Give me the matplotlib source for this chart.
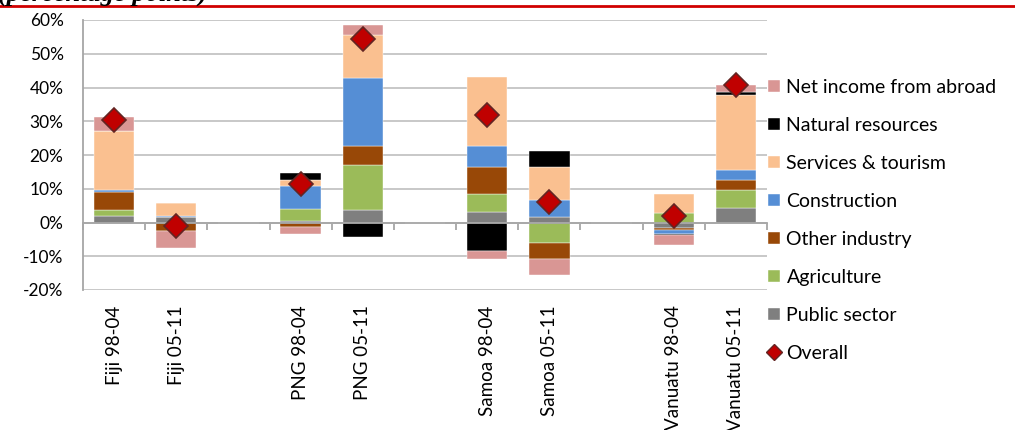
import matplotlib
matplotlib.use("Agg")
import matplotlib.pyplot as plt
from matplotlib.lines import Line2D
import numpy as np

plt.rcParams['font.family'] = ['Lato', 'DejaVu Sans']

categories = ["Fiji 98-04", "Fiji 05-11", "", "PNG 98-04", "PNG 05-11", "",
              "Samoa 98-04", "Samoa 05-11", "", "Vanuatu 98-04", "Vanuatu 05-11"]

public_sector = [1.8, 1.6, np.nan, 0.4, 3.6, np.nan, 3.1, 1.7, np.nan, -1.6, 4.2]
agriculture = [2.0, 0.0, np.nan, 3.6, 13.3, np.nan, 5.2, -6.2, np.nan, 2.7, 5.3]
other_industry = [5.1, -2.5, np.nan, -1.4, 5.8, np.nan, 8.1, -4.5, np.nan, -0.7, 3.0]
construction = [0.6, 0.3, np.nan, 6.9, 20.2, np.nan, 6.2, 5.1, np.nan, -1.0, 3.0]
services_tourism = [17.5, 3.9, np.nan, 1.7, 12.8, np.nan, 20.5, 9.7, np.nan, 5.8, 22.2]
natural_resources = [0.0, 0.0, np.nan, 2.0, -4.3, np.nan, -8.3, 4.8, np.nan, -0.5, 1.1]
net_income = [4.2, -5.0, np.nan, -1.9, 2.8, np.nan, -2.5, -4.9, np.nan, -3.0, 2.0]
overall = [30.4, -0.9, np.nan, 11.4, 54.4, np.nan, 31.9, 6.0, np.nan, 1.9, 40.8]

series = [
    ("Public sector", public_sector, "#7F7F7F"),
    ("Agriculture", agriculture, "#9BBB59"),
    ("Other industry", other_industry, "#984807"),
    ("Construction", construction, "#558ED5"),
    ("Services & tourism", services_tourism, "#FAC090"),
    ("Natural resources", natural_resources, "#000000"),
    ("Net income from abroad", net_income, "#D99694"),
]

fig = plt.figure(figsize=(10.15, 4.30), dpi=100)
ax = fig.add_axes([83/1015, 1 - 290/430, (767 - 83)/1015, 270/430])

x = np.arange(len(categories))
pos_base = np.zeros(len(categories))
neg_base = np.zeros(len(categories))
handles = []
for name, vals, col in series:
    v = np.nan_to_num(np.array(vals, dtype=float))
    bottoms = np.where(v >= 0, pos_base, neg_base)
    b = ax.bar(x, v, bottom=bottoms, width=0.65, color=col, label=name,
               edgecolor='white', linewidth=0.3, zorder=3)
    handles.append(b)
    pos_base = pos_base + np.where(v > 0, v, 0)
    neg_base = neg_base + np.where(v < 0, v, 0)

ax.plot(x, overall, linestyle='none', marker='D', markersize=12,
        markerfacecolor='#C00000', markeredgecolor='#632523',
        markeredgewidth=1.2, label='Overall', zorder=5)

ax.set_xlim(-0.5, len(categories) - 0.5)
ax.set_ylim(-20, 60)
ax.set_yticks(np.arange(-20, 61, 10))
ax.set_yticklabels([f"{t}%" for t in range(-20, 61, 10)], fontsize=12.5)
ax.tick_params(axis='y', length=0, pad=14)
ax.grid(axis='y', color='#C8C8C8', linewidth=1.4, zorder=0)
ax.set_axisbelow(True)

for s in ['top', 'right']:
    ax.spines[s].set_visible(False)
ax.spines['left'].set_color('#A6A6A6')
ax.spines['left'].set_linewidth(1.3)
ax.spines['bottom'].set_position(('data', 0))
ax.spines['bottom'].set_color('#A6A6A6')
ax.spines['bottom'].set_linewidth(1.3)
ax.spines['bottom'].set_zorder(4)
ax.set_xticks(np.arange(len(categories) + 1) - 0.5)
ax.set_xticklabels([])
ax.tick_params(axis='x', length=5, color='#A6A6A6', width=1.3, direction='out')

sec = ax.secondary_xaxis(0.0)
sec.set_xticks(x)
sec.set_xticklabels(categories, rotation=90, fontsize=13.5)
sec.tick_params(length=0, pad=11)
sec.spines['bottom'].set_visible(False)

ov_proxy = Line2D([], [], linestyle='none', marker='D', markersize=8,
                  markerfacecolor='#C00000', markeredgecolor='#632523',
                  markeredgewidth=1.0)
leg_items = handles[::-1] + [ov_proxy]
leg_labels = [h.get_label() for h in handles[::-1]] + ['Overall']
leg = fig.legend(leg_items, leg_labels,
                 loc='upper left', bbox_to_anchor=(768/1015, 1 - 79/430),
                 frameon=False, fontsize=14, handlelength=0.6,
                 handleheight=0.6, handletextpad=0.35, labelspacing=1.08,
                 borderaxespad=0, borderpad=0)

fig.add_artist(Line2D([0, 1], [1 - 6/430, 1 - 6/430], color='#D00000',
                      linewidth=2, transform=fig.transFigure))
fig.text(207/1015, 1 - 0.5/430, "(percentage points)", fontsize=19,
         family='Liberation Serif', style='italic', weight='bold',
         va='baseline', ha='right')

fig.savefig("out.png", dpi=100)
